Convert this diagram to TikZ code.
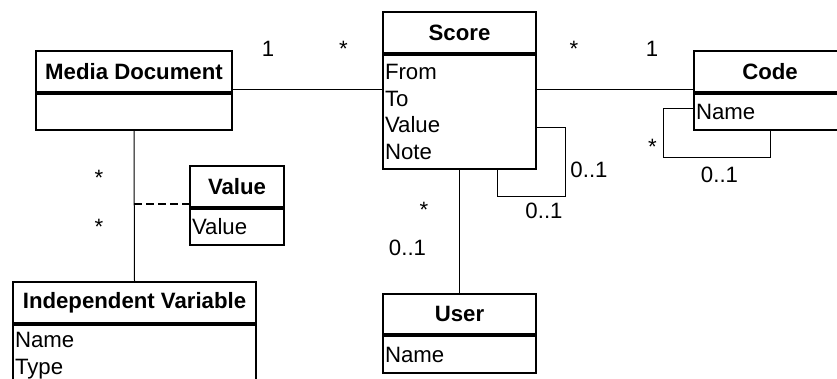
\documentclass[tikz,border=0pt]{standalone}
\usepackage{fontspec}
\setmainfont{Liberation Sans}
\newcommand{\umlsize}{\fontsize{22.2}{26.7}\selectfont}
\begin{document}
\begin{tikzpicture}[x=1pt,y=-1pt]
	\tikzstyle{classhead} = [draw,line width=2pt,anchor=north west,inner sep=0pt,font=\umlsize\bfseries]
	\tikzstyle{classbody} = [draw,line width=2pt,anchor=north west,align=left,inner xsep=2pt,inner ysep=0pt,font=\umlsize]
	\tikzstyle{mult} = [anchor=base,inner sep=0pt,font=\umlsize]
	\tikzstyle{link} = [line width=1pt]
	\clip (0,0) rectangle (837,378);
	% classes
	\node[classhead,minimum width=196pt,minimum height=41pt] (mediah) at (35,50) {Media Document};
	\node[classbody,text width=192pt,minimum height=36pt] (mediab) at (mediah.south west) {};
	\node[classhead,minimum width=153pt,minimum height=41pt] (scoreh) at (382,11) {Score};
	\node[classbody,text width=149pt,minimum height=114pt] (scoreb) at (scoreh.south west) {From\\To\\Value\\Note};
	\node[classhead,minimum width=152pt,minimum height=41pt] (codeh) at (693,50) {Code};
	\node[classbody,text width=148pt,minimum height=36pt] (codeb) at (codeh.south west) {Name};
	\node[classhead,minimum width=94pt,minimum height=41pt] (valueh) at (189,165) {Value};
	\node[classbody,text width=90pt,minimum height=36pt] (valueb) at (valueh.south west) {Value};
	\node[classhead,minimum width=243pt,minimum height=41pt] (indeph) at (12,281) {Independent Variable};
	\node[classbody,text width=239pt,minimum height=62pt] (indepb) at (indeph.south west) {Name\\Type};
	\node[classhead,minimum width=153pt,minimum height=40pt] (userh) at (382,293) {User};
	\node[classbody,text width=149pt,minimum height=37pt] (userb) at (userh.south west) {Name};
	% associations
	\draw[link] (mediah.east |- 0,89) -- (scoreb.west |- 0,89);
	\draw[link] (scoreb.east |- 0,89) -- (codeh.west |- 0,89);
	\draw[link] (mediab.south) -- (indeph.north);
	\draw[link] (scoreb.south) -- (userh.north);
	\coordinate (assoc) at (mediab.south |- 0,203.5);
	\draw[line width=2pt,dash pattern=on 8pt off 4pt] (assoc) -- (assoc -| valueh.west);
	% self references
	\coordinate (scoreloop) at (565,196);
	\draw[link] (scoreb.east |- 0,127) -| (scoreloop) -| (scoreb.south -| 497,0);
	\coordinate (codeloop) at (663,157);
	\draw[link] (codeb.west |- 0,108) -| (codeloop) -| (codeb.south);
	% multiplicities
	\node[mult] (mdone) at (268,56) {1};
	\node[mult] (mdstar) at (343.5,56) {*};
	\node[mult] (scstar) at (574,56) {*};
	\node[mult] (codeone) at (652,56) {1};
	\node[mult] (ivstara) at (99,185) {*};
	\node[mult] (ivstarb) at (99,234) {*};
	\node[mult] (userstar) at (424,217) {*};
	\node[mult] (userone) at (407.5,255) {0..1};
	\node[mult] (selfa) at (589,177) {0..1};
	\node[mult] (selfb) at (544,218) {0..1};
	\node[mult] (codestar) at (652.5,154) {*};
	\node[mult] (codeself) at (719.5,182) {0..1};
\end{tikzpicture}
\end{document}
